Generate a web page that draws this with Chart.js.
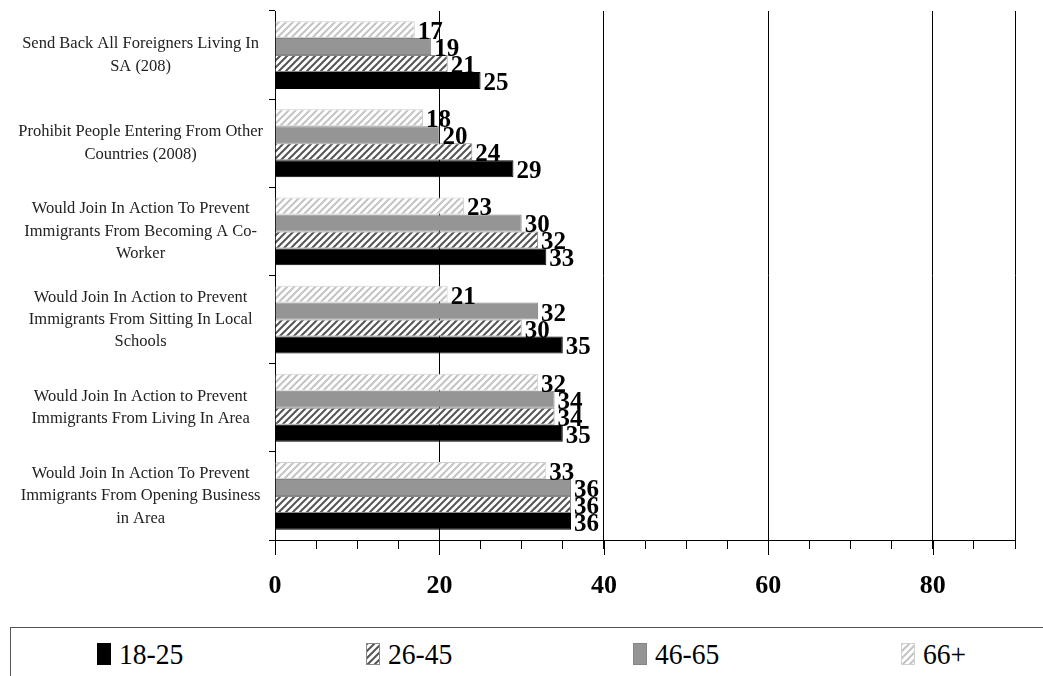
<!DOCTYPE html>
<html><head><meta charset="utf-8">
<script src="https://cdn.jsdelivr.net/npm/chart.js@4.4.1/dist/chart.umd.min.js"></script>
<style>
html,body{margin:0;padding:0;background:#fff;overflow:hidden;}
#wrap{position:relative;width:1043px;height:676px;}
#c{position:absolute;left:0;top:0;}
#legend{position:absolute;left:10px;top:627px;width:1040px;height:60px;border:1px solid #555;box-sizing:border-box;font-family:"Liberation Serif",serif;font-size:30px;color:#000;}
.item{position:absolute;top:14px;height:24px;display:flex;align-items:center;}
.sw{width:14px;height:22px;margin-right:8px;box-sizing:border-box;}
.item span{display:inline-block;transform:scaleX(0.92);transform-origin:left center;}
</style></head>
<body>
<div id="wrap">
<canvas id="c" width="1043" height="620"></canvas>
<div id="legend"></div>
</div>
<script>
const categories = [
  ["Send Back All Foreigners Living In", "SA (208)"],
  ["Prohibit People Entering From Other", "Countries (2008)"],
  ["Would Join In Action To Prevent", "Immigrants From Becoming A Co-", "Worker"],
  ["Would Join In Action to Prevent", "Immigrants From Sitting In Local", "Schools"],
  ["Would Join In Action to Prevent", "Immigrants From Living In Area"],
  ["Would Join In Action To Prevent", "Immigrants From Opening Business", "in Area"]
];
const seriesNames = ["18-25", "26-45", "46-65", "66+"];
const s18_25 = [25, 29, 33, 35, 35, 36];
const s26_45 = [21, 24, 32, 30, 34, 36];
const s46_65 = [19, 20, 30, 32, 34, 36];
const s66plus = [17, 18, 23, 21, 32, 33];
const xMax = 90;

const cv = document.getElementById('c');
const ctx = cv.getContext('2d');

function hatchCanvas(bg, fg, lw){
  const s = 7, c = document.createElement('canvas');
  c.width = s; c.height = s;
  const x = c.getContext('2d');
  x.fillStyle = bg; x.fillRect(0,0,s,s);
  x.strokeStyle = fg; x.lineWidth = lw; x.beginPath();
  x.moveTo(-1, s+1); x.lineTo(s+1, -1);
  x.moveTo(-s/2-1, s/2+1); x.lineTo(s/2+1, -s/2-1);
  x.moveTo(s/2-1, s*1.5+1); x.lineTo(s*1.5+1, s/2-1);
  x.stroke();
  return c;
}
const hatchDark = hatchCanvas('#ffffff', '#555555', 2);
const hatchLight = hatchCanvas('#ffffff', '#c4c4c4', 2);
const patDark = ctx.createPattern(hatchDark, 'repeat');
const patLight = ctx.createPattern(hatchLight, 'repeat');

const styles = {
  "18-25": {bg:'#000000', border:'#000000', legend:'background:#000;'},
  "26-45": {bg:patDark, border:'#888888', legend:'background-image:url('+hatchDark.toDataURL()+');border:1px solid #888;'},
  "46-65": {bg:'#959595', border:'#858585', legend:'background:#959595;border:1px solid #858585;'},
  "66+":   {bg:patLight, border:'#d0d0d0', legend:'background-image:url('+hatchLight.toDataURL()+');border:1px solid #d0d0d0;'}
};
const seriesData = {"18-25": s18_25, "26-45": s26_45, "46-65": s46_65, "66+": s66plus};

const drawOrder = ["66+", "46-65", "26-45", "18-25"];
const datasets = drawOrder.map(n => ({
  label: n,
  data: seriesData[n],
  backgroundColor: styles[n].bg,
  borderColor: styles[n].border,
  borderWidth: 1,
  categoryPercentage: 0.77,
  barPercentage: 1.0
}));

const valueLabels = {
  id: 'valueLabels',
  afterDatasetsDraw(chart){
    const c = chart.ctx;
    c.save();
    c.font = 'bold 25px "Liberation Serif", serif';
    c.fillStyle = '#000';
    c.textAlign = 'left';
    c.textBaseline = 'middle';
    chart.data.datasets.forEach((ds, i) => {
      const meta = chart.getDatasetMeta(i);
      meta.data.forEach((bar, j) => {
        c.fillText(String(ds.data[j]), bar.x + 3, bar.y + 3);
      });
    });
    c.restore();
  }
};

const majorTicks = {
  id: 'majorTicks',
  afterDraw(chart){
    const xs = chart.scales.x, c = chart.ctx;
    const y0 = chart.chartArea.bottom;
    c.save();
    c.strokeStyle = '#000'; c.lineWidth = 1;
    xs.ticks.forEach(t => {
      if (t.value % 20 === 0) {
        const px = Math.round(xs.getPixelForValue(t.value)) + 0.5;
        c.beginPath(); c.moveTo(px, y0); c.lineTo(px, y0 + 15); c.stroke();
      }
    });
    c.restore();
  }
};

new Chart(cv, {
  type: 'bar',
  data: { labels: categories, datasets },
  options: {
    indexAxis: 'y',
    responsive: false,
    animation: false,
    layout: { padding: { left: 0, right: 28, top: 11, bottom: 0 } },
    plugins: { legend: { display: false }, tooltip: { enabled: false } },
    scales: {
      x: {
        min: 0, max: xMax,
        ticks: {
          stepSize: 5, autoSkip: false, maxRotation: 0,
          callback: v => (v % 20 === 0) ? String(v) : '',
          font: { family: '"Liberation Serif", serif', size: 26, weight: 'bold' },
          color: '#000', padding: 22
        },
        grid: {
          color: c => (c.tick && ((c.tick.value % 20 === 0 && c.tick.value > 0) || c.tick.value === xMax)) ? '#000' : 'rgba(0,0,0,0)',
          tickColor: '#000', tickLength: 9, lineWidth: 1
        },
        border: { color: '#000', width: 1 },
        afterFit: s => { s.height = 80; s.paddingLeft = 0; s.paddingRight = 0; }
      },
      y: {
        ticks: {
          font: { family: '"Liberation Serif", serif', size: 16.5, lineHeight: 1.35 },
          color: '#222', crossAlign: 'center', padding: 6
        },
        grid: { drawOnChartArea: false, offset: true, tickLength: 6, color: '#000' },
        border: { color: '#000', width: 1 },
        afterFit: s => { s.width = 275; s.paddingTop = 0; s.paddingBottom = 0; }
      }
    }
  },
  plugins: [valueLabels, majorTicks]
});

const legendX = [86, 355, 622, 890];
const lg = document.getElementById('legend');
seriesNames.forEach((n, i) => {
  const d = document.createElement('div');
  d.className = 'item';
  d.style.left = legendX[i] + 'px';
  d.innerHTML = '<div class="sw" style="' + styles[n].legend + '"></div><span>' + n + '</span>';
  lg.appendChild(d);
});
</script>
</body></html>
